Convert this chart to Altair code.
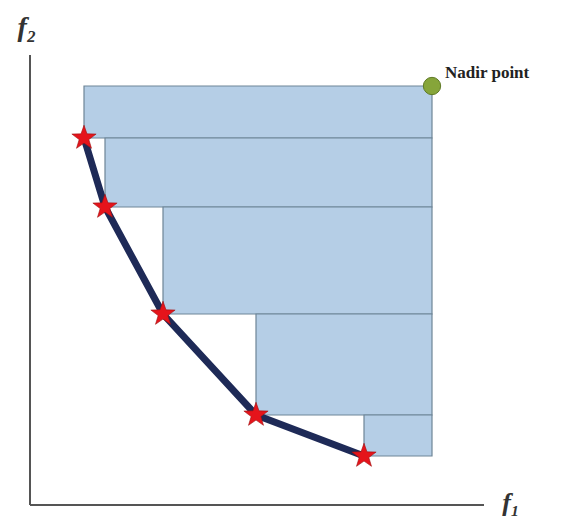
import altair as alt
import pandas as pd

# Pareto front points (f1, f2)
f1_vals = [1.35, 1.875, 3.325, 5.65, 8.35]
f2_vals = [9.175, 7.45, 4.775, 2.25, 1.225]
# Nadir point
nadir_f1 = 10.05
nadir_f2 = 10.475
# axis extents
axis_x_end = 11.35
axis_y_end = 11.25

pts = pd.DataFrame({"f1": f1_vals, "f2": f2_vals, "order": list(range(len(f1_vals)))})

rect_rows = []
prev_top = nadir_f2
for a, b in zip(f1_vals, f2_vals):
    rect_rows.append({"x": a, "x2": nadir_f1, "y": b, "y2": prev_top})
    prev_top = b
rects = pd.DataFrame(rect_rows)

xs = alt.Scale(domain=[-0.55, 13.15], nice=False, zero=False)
ys = alt.Scale(domain=[-0.275, 12.425], nice=False, zero=False)


def X(f):
    return alt.X(f, type="quantitative", scale=xs, axis=None)


def Y(f):
    return alt.Y(f, type="quantitative", scale=ys, axis=None)


STAR = ("M0,-1L0.235,-0.324L0.951,-0.309L0.380,0.124L0.588,0.809L0,0.4"
        "L-0.588,0.809L-0.380,0.124L-0.951,-0.309L-0.235,-0.324Z")

rect_layer = alt.Chart(rects).mark_rect(
    fill="#b5cee6", stroke="#6e8597", strokeWidth=1.2
).encode(x=X("x"), x2="x2", y=Y("y"), y2="y2")

line_layer = alt.Chart(pts).mark_line(
    color="#1e2a57", strokeWidth=7
).encode(x=X("f1"), y=Y("f2"), order="order")

star_layer = alt.Chart(pts).mark_point(
    shape=STAR, filled=True, size=650, fill="#e5141b", fillOpacity=1,
    stroke="#a01010", strokeWidth=0.6
).encode(x=X("f1"), y=Y("f2"))

nadir = pd.DataFrame({"f1": [nadir_f1], "f2": [nadir_f2], "label": ["Nadir point"]})
nadir_layer = alt.Chart(nadir).mark_point(
    shape="circle", filled=True, size=300, fill="#86a53a", fillOpacity=1,
    stroke="#5f7a25", strokeWidth=1
).encode(x=X("f1"), y=Y("f2"))
nadir_text = alt.Chart(nadir).mark_text(
    align="left", baseline="bottom", dx=13, dy=-4, font="Liberation Serif",
    fontSize=17, fontWeight="bold", color="#222222"
).encode(x=X("f1"), y=Y("f2"), text="label")

hx = pd.DataFrame({"a": [0.0], "b": [axis_x_end], "y": [0.0]})
vy = pd.DataFrame({"a": [0.0], "b": [axis_y_end], "x": [0.0]})
h_axis = alt.Chart(hx).mark_rule(color="#555555", strokeWidth=2).encode(
    x=X("a"), x2="b", y=Y("y")
)
v_axis = alt.Chart(vy).mark_rule(color="#555555", strokeWidth=2).encode(
    y=Y("a"), y2="b", x=X("x")
)

lab_f1 = pd.DataFrame({"x": [axis_x_end], "y": [0.0], "t": ["f₁"]})
lab_f2 = pd.DataFrame({"x": [0.0], "y": [axis_y_end], "t": ["f₂"]})
lab1 = alt.Chart(lab_f1).mark_text(
    font="Liberation Serif", fontStyle="italic", fontWeight="bold", fontSize=26,
    color="#333333", dx=27, dy=-2
).encode(x=X("x"), y=Y("y"), text="t")
lab2 = alt.Chart(lab_f2).mark_text(
    font="Liberation Serif", fontStyle="italic", fontWeight="bold", fontSize=28,
    color="#333333", dx=-3, dy=-27
).encode(x=X("x"), y=Y("y"), text="t")

chart = alt.layer(
    rect_layer, line_layer, star_layer, nadir_layer, nadir_text, h_axis, v_axis, lab1, lab2
).properties(
    width=548, height=508, autosize=alt.AutoSizeParams(type="none"), padding=0
).configure_view(stroke=None)

chart.save("out.html", embed_options={"renderer": "svg", "actions": False})
